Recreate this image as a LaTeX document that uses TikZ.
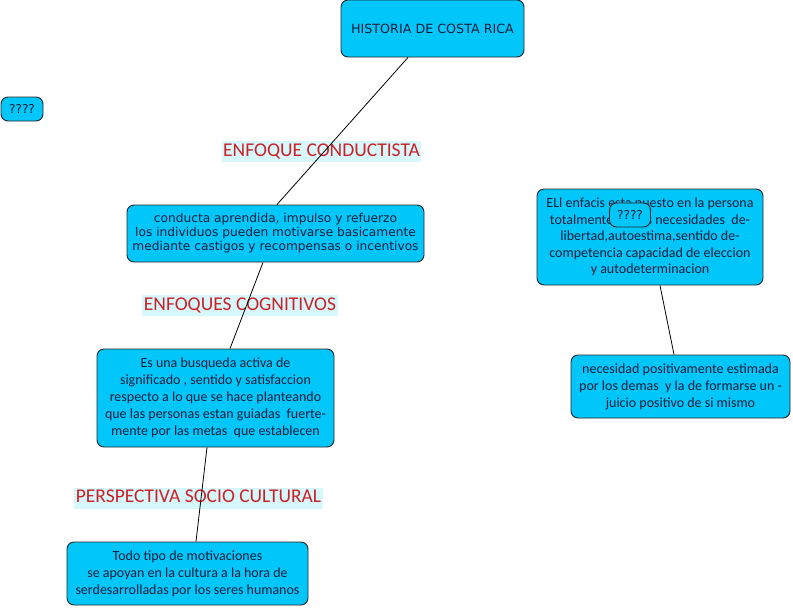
\documentclass[tikz,border=0pt]{standalone}
\usepackage{fontspec}
\setmainfont{Carlito}
\newfontfamily\verd{DejaVu Sans}
\definecolor{boxfill}{RGB}{0,198,250}
\definecolor{boxtext}{RGB}{25,30,60}
\definecolor{lblfill}{RGB}{214,248,252}
\definecolor{lbltext}{RGB}{204,32,39}
\tikzset{
  cbox/.style={draw=black!85, fill=boxfill, rounded corners=7pt, line width=0.9pt,
    text=boxtext, align=center, inner sep=0pt},
  vtext/.style={font=\verd\fontsize{12.2}{14}\selectfont},
  ctext/.style={font=\fontsize{14}{17}\selectfont},
  lbl/.style={fill=lblfill, text=lbltext, inner xsep=1.5pt, inner ysep=2pt,
    text height=13pt, text depth=4pt, font=\fontsize{19.5}{20}\selectfont},
  conn/.style={draw=black, line width=0.8pt}
}
\begin{document}
\begin{tikzpicture}[x=1pt,y=-1pt]
\useasboundingbox[fill=white] (0,0) rectangle (793,608);

\node[cbox,font=\verd\fontsize{12.7}{14}\selectfont,minimum width=183pt,minimum height=57pt] (h) at (432.5,28.5) {HISTORIA DE COSTA RICA};
\node[cbox,vtext,minimum width=42pt,minimum height=24pt] (q1) at (22,109) {????};
\node[cbox,vtext,minimum width=297pt,minimum height=57pt] (c) at (275.5,233.5)
  {conducta aprendida, impulso y refuerzo\\los individuos pueden motivarse basicamente\\mediante castigos y recompensas o incentivos};
\node[cbox,ctext,minimum width=237pt,minimum height=98pt] (e) at (215.5,398)
  {Es una busqueda activa de\\significado , sentido y satisfaccion\\respecto a lo que se hace planteando\\que las personas estan guiadas\ \ fuerte-\\mente por las metas\ \ que establecen};
\node[cbox,ctext,minimum width=241pt,minimum height=63pt] (t) at (187.5,573.5)
  {Todo tipo de motivaciones\\se apoyan en la cultura a la hora de\\serdesarrolladas por los seres humanos};
\node[cbox,ctext,font=\fontsize{14}{16.5}\selectfont,minimum width=226pt,minimum height=96pt] (l) at (650,237)
  {ELl enfacis esta puesto en la persona\\totalmente en sus necesidades\ \ de-\\libertad,autoestima,sentido de-\\competencia capacidad de eleccion\\y autodeterminacion};
\node[cbox,vtext,minimum width=41pt,minimum height=24pt] (q2) at (630,215) {????};
\node[cbox,ctext,minimum width=219pt,minimum height=63pt] (n) at (680.5,386.5)
  {necesidad positivamente estimada\\por los demas\ \ y la de formarse un -\\juicio positivo de si mismo};

\node[lbl] (l1) at (321.5,151.5) {ENFOQUE CONDUCTISTA};
\node[lbl] (l2) at (240,305.5) {ENFOQUES COGNITIVOS};
\node[lbl] (l3) at (198.5,498) {PERSPECTIVA SOCIO CULTURAL};

\draw[conn] ([xshift=-24.5pt]h.south) -- ([xshift=1.5pt]c.north);
\draw[conn] ([xshift=-12.5pt]c.south) -- ([xshift=14.5pt]e.north);
\draw[conn] ([xshift=-8.5pt]e.south) -- ([xshift=8.5pt]t.north);
\draw[conn] ([xshift=10pt]l.south) -- ([xshift=-6.5pt]n.north);
\end{tikzpicture}
\end{document}
